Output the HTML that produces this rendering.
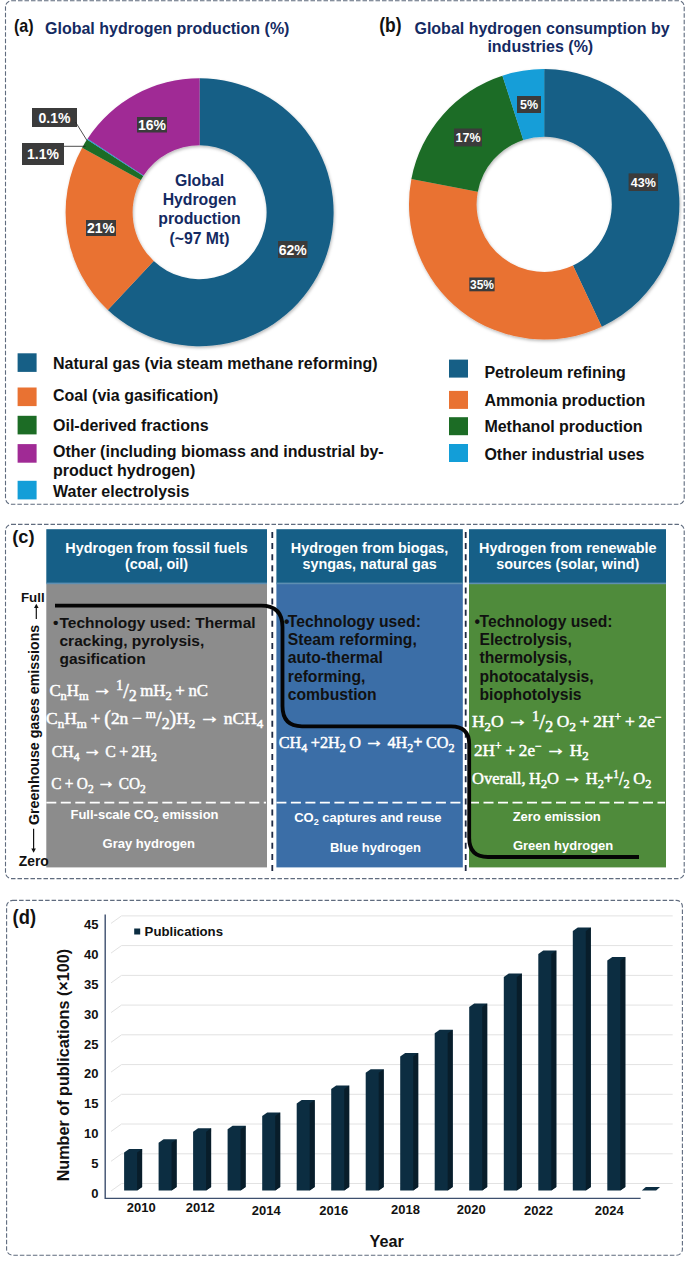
<!DOCTYPE html>
<html><head><meta charset="utf-8"><style>
html,body{margin:0;padding:0;background:#fff;}
body{width:685px;height:1261px;overflow:hidden;font-family:"Liberation Sans",sans-serif;}
svg{display:block;}
</style></head><body>
<svg width="685" height="1261" viewBox="0 0 685 1261">
<defs><filter id="sh" x="-10%" y="-10%" width="120%" height="120%"><feDropShadow dx="0.8" dy="1.6" stdDeviation="1.8" flood-color="#000" flood-opacity="0.28"/></filter></defs>
<rect width="685" height="1261" fill="#fff"/>
<rect x="5.5" y="0.7" width="678.7" height="503.6" rx="6" ry="6" fill="none" stroke="#5f6b7e" stroke-width="1.1" stroke-dasharray="4.5 2"/>
<rect x="5.5" y="524.4" width="678.7" height="354.20000000000005" rx="6" ry="6" fill="none" stroke="#5f6b7e" stroke-width="1.1" stroke-dasharray="4.5 2"/>
<rect x="6.6" y="900.4" width="675.8" height="354.80000000000007" rx="6" ry="6" fill="none" stroke="#5f6b7e" stroke-width="1.1" stroke-dasharray="4.5 2"/>
<text x="14" y="31.8" font-size="19" font-weight="bold" fill="#111" text-anchor="start" font-family='"Liberation Sans", sans-serif' textLength="19.7" lengthAdjust="spacingAndGlyphs">(a)</text>
<text x="45" y="33.6" font-size="16" font-weight="bold" fill="#142a62" text-anchor="start" font-family='"Liberation Sans", sans-serif' >Global hydrogen production (%)</text>
<g filter="url(#sh)">
<path d="M199.60,78.20 A134,134 0 1 1 107.87,309.88 L153.74,261.04 A67,67 0 1 0 199.60,145.20 Z" fill="#165f86"/>
<path d="M107.87,309.88 A134,134 0 0 1 82.17,147.65 L140.89,179.92 A67,67 0 0 0 153.74,261.04 Z" fill="#e97232"/>
<path d="M82.17,147.65 A134,134 0 0 1 86.96,139.61 L143.28,175.91 A67,67 0 0 0 140.89,179.92 Z" fill="#1c6c25"/>
<path d="M86.96,139.61 A134,134 0 0 1 87.60,138.63 L143.60,175.42 A67,67 0 0 0 143.28,175.91 Z" fill="#139ed8"/>
<path d="M87.60,138.63 A134,134 0 0 1 199.60,78.20 L199.60,145.20 A67,67 0 0 0 143.60,175.42 Z" fill="#a02a95"/>
</g>
<text x="199.5" y="186" font-size="15.8" font-weight="bold" fill="#142a62" text-anchor="middle" font-family='"Liberation Sans", sans-serif' >Global</text>
<text x="199.5" y="204.5" font-size="15.8" font-weight="bold" fill="#142a62" text-anchor="middle" font-family='"Liberation Sans", sans-serif' >Hydrogen</text>
<text x="199.5" y="224.1" font-size="15.8" font-weight="bold" fill="#142a62" text-anchor="middle" font-family='"Liberation Sans", sans-serif' >production</text>
<text x="199.5" y="244" font-size="15.8" font-weight="bold" fill="#142a62" text-anchor="middle" font-family='"Liberation Sans", sans-serif' >(~97 Mt)</text>
<rect x="278" y="241" width="29.5" height="17.0" fill="#3b3b3b"/><text x="292.8" y="254.5" font-size="14" font-weight="bold" fill="#fff" text-anchor="middle" font-family='"Liberation Sans", sans-serif' >62%</text>
<rect x="86" y="220" width="30.0" height="16.0" fill="#3b3b3b"/><text x="101.0" y="233.0" font-size="14" font-weight="bold" fill="#fff" text-anchor="middle" font-family='"Liberation Sans", sans-serif' >21%</text>
<rect x="137" y="117" width="30.0" height="15.5" fill="#3b3b3b"/><text x="152.0" y="129.8" font-size="14" font-weight="bold" fill="#fff" text-anchor="middle" font-family='"Liberation Sans", sans-serif' >16%</text>
<rect x="22" y="143" width="42.0" height="22.0" fill="#3b3b3b"/><text x="43.0" y="159.0" font-size="14" font-weight="bold" fill="#fff" text-anchor="middle" font-family='"Liberation Sans", sans-serif' >1.1%</text>
<rect x="32" y="108" width="45.0" height="19.0" fill="#3b3b3b"/><text x="54.5" y="122.5" font-size="14" font-weight="bold" fill="#fff" text-anchor="middle" font-family='"Liberation Sans", sans-serif' >0.1%</text>
<path d="M75.5,122 L87,140.5" stroke="#222" stroke-width="0.8" fill="none"/>
<path d="M64,146.3 L85.5,146.3" stroke="#222" stroke-width="0.8" fill="none"/>
<rect x="17.6" y="353.3" width="19" height="18.6" fill="#165f86"/>
<rect x="17.6" y="387.5" width="19" height="18.6" fill="#e97232"/>
<rect x="17.6" y="415.8" width="19" height="18.6" fill="#1c6c25"/>
<rect x="17.6" y="444.1" width="19" height="18.6" fill="#a02a95"/>
<rect x="17.6" y="480.8" width="19" height="18.6" fill="#139ed8"/>
<text x="53" y="369.4" font-size="16" font-weight="bold" fill="#111" text-anchor="start" font-family='"Liberation Sans", sans-serif' >Natural gas (via steam methane reforming)</text>
<text x="53" y="400.5" font-size="16" font-weight="bold" fill="#111" text-anchor="start" font-family='"Liberation Sans", sans-serif' >Coal (via gasification)</text>
<text x="53" y="430.5" font-size="16" font-weight="bold" fill="#111" text-anchor="start" font-family='"Liberation Sans", sans-serif' >Oil-derived fractions</text>
<text x="53" y="457.2" font-size="16" font-weight="bold" fill="#111" text-anchor="start" font-family='"Liberation Sans", sans-serif' >Other (including biomass and industrial by-</text>
<text x="53" y="475.7" font-size="16" font-weight="bold" fill="#111" text-anchor="start" font-family='"Liberation Sans", sans-serif' >product hydrogen)</text>
<text x="53" y="497.1" font-size="16" font-weight="bold" fill="#111" text-anchor="start" font-family='"Liberation Sans", sans-serif' >Water electrolysis</text>
<text x="379.2" y="31.5" font-size="19.5" font-weight="bold" fill="#111" text-anchor="start" font-family='"Liberation Sans", sans-serif' textLength="22.3" lengthAdjust="spacingAndGlyphs">(b)</text>
<text x="542" y="34.4" font-size="16" font-weight="bold" fill="#142a62" text-anchor="middle" font-family='"Liberation Sans", sans-serif' >Global hydrogen consumption by</text>
<text x="540.3" y="52.3" font-size="16" font-weight="bold" fill="#142a62" text-anchor="middle" font-family='"Liberation Sans", sans-serif' >industries (%)</text>
<g filter="url(#sh)">
<path d="M544.20,69.10 A135.2,135.2 0 0 1 601.77,326.63 L572.98,265.47 A67.6,67.6 0 0 0 544.20,136.70 Z" fill="#165f86"/>
<path d="M601.77,326.63 A135.2,135.2 0 0 1 411.39,178.97 L477.80,191.63 A67.6,67.6 0 0 0 572.98,265.47 Z" fill="#e97232"/>
<path d="M411.39,178.97 A135.2,135.2 0 0 1 502.42,75.72 L523.31,140.01 A67.6,67.6 0 0 0 477.80,191.63 Z" fill="#1c6c25"/>
<path d="M502.42,75.72 A135.2,135.2 0 0 1 544.20,69.10 L544.20,136.70 A67.6,67.6 0 0 0 523.31,140.01 Z" fill="#139ed8"/>
</g>
<rect x="628.6" y="173.4" width="29.4" height="17.6" fill="#3b3b3b"/><text x="643.3" y="186.7" font-size="12.5" font-weight="bold" fill="#fff" text-anchor="middle" font-family='"Liberation Sans", sans-serif' >43%</text>
<rect x="469.3" y="277.5" width="25.3" height="13.8" fill="#3b3b3b"/><text x="482.0" y="288.7" font-size="12" font-weight="bold" fill="#fff" text-anchor="middle" font-family='"Liberation Sans", sans-serif' >35%</text>
<rect x="454" y="128.5" width="28.0" height="17.9" fill="#3b3b3b"/><text x="468.0" y="141.9" font-size="12.5" font-weight="bold" fill="#fff" text-anchor="middle" font-family='"Liberation Sans", sans-serif' >17%</text>
<rect x="517" y="96" width="24.0" height="17.0" fill="#3b3b3b"/><text x="529.0" y="109.0" font-size="12.5" font-weight="bold" fill="#fff" text-anchor="middle" font-family='"Liberation Sans", sans-serif' >5%</text>
<rect x="449" y="359.6" width="19" height="18" fill="#165f86"/>
<rect x="449" y="390.9" width="19" height="18" fill="#e97232"/>
<rect x="449" y="417.2" width="19" height="18" fill="#1c6c25"/>
<rect x="449" y="444" width="19" height="18" fill="#139ed8"/>
<text x="484.4" y="377.7" font-size="16" font-weight="bold" fill="#111" text-anchor="start" font-family='"Liberation Sans", sans-serif' >Petroleum refining</text>
<text x="484.4" y="405.5" font-size="16" font-weight="bold" fill="#111" text-anchor="start" font-family='"Liberation Sans", sans-serif' >Ammonia production</text>
<text x="484.4" y="432.3" font-size="16" font-weight="bold" fill="#111" text-anchor="start" font-family='"Liberation Sans", sans-serif' >Methanol production</text>
<text x="484.4" y="459.5" font-size="16" font-weight="bold" fill="#111" text-anchor="start" font-family='"Liberation Sans", sans-serif' >Other industrial uses</text>
<text x="12.2" y="542.5" font-size="18.5" font-weight="bold" fill="#111" text-anchor="start" font-family='"Liberation Sans", sans-serif' textLength="22.4" lengthAdjust="spacingAndGlyphs">(c)</text>
<rect x="46.3" y="529.2" width="220.7" height="54" fill="#165f87"/>
<rect x="46.3" y="583.2" width="220.7" height="284.2" fill="#8c8c8c"/>
<rect x="46.3" y="582.6" width="220.7" height="1.6" fill="#5e8fb2"/>
<rect x="276.4" y="529.2" width="186.4" height="54" fill="#165f87"/>
<rect x="276.4" y="583.2" width="186.4" height="284.2" fill="#3b6ea7"/>
<rect x="276.4" y="582.6" width="186.4" height="1.6" fill="#5e8fb2"/>
<rect x="469" y="529.2" width="197.0" height="54" fill="#165f87"/>
<rect x="469" y="583.2" width="197.0" height="284.2" fill="#4f8b3b"/>
<rect x="469" y="582.6" width="197.0" height="1.6" fill="#5e8fb2"/>
<line x1="272.3" y1="532" x2="272.3" y2="876" stroke="#1f2a44" stroke-width="1.8" stroke-dasharray="6 5.1"/>
<line x1="465.7" y1="532" x2="465.7" y2="876" stroke="#1f2a44" stroke-width="1.8" stroke-dasharray="6 5.1"/>
<text x="156.5" y="553" font-size="14.4" font-weight="bold" fill="#fff" text-anchor="middle" font-family='"Liberation Sans", sans-serif' >Hydrogen from fossil fuels</text>
<text x="156.5" y="568.8" font-size="14.4" font-weight="bold" fill="#fff" text-anchor="middle" font-family='"Liberation Sans", sans-serif' >(coal, oil)</text>
<text x="369.6" y="553" font-size="14.4" font-weight="bold" fill="#fff" text-anchor="middle" font-family='"Liberation Sans", sans-serif' >Hydrogen from biogas,</text>
<text x="369.6" y="568.8" font-size="14.4" font-weight="bold" fill="#fff" text-anchor="middle" font-family='"Liberation Sans", sans-serif' >syngas, natural gas</text>
<text x="567.8" y="553" font-size="14.4" font-weight="bold" fill="#fff" text-anchor="middle" font-family='"Liberation Sans", sans-serif' >Hydrogen from renewable</text>
<text x="567.8" y="568.8" font-size="14.4" font-weight="bold" fill="#fff" text-anchor="middle" font-family='"Liberation Sans", sans-serif' >sources (solar, wind)</text>
<text x="53" y="627.5" font-size="15.5" font-weight="bold" fill="#111" text-anchor="start" font-family='"Liberation Sans", sans-serif' >•</text><text x="59.5" y="627.5" font-size="15.5" font-weight="bold" fill="#111" text-anchor="start" font-family='"Liberation Sans", sans-serif' >Technology used: Thermal</text><text x="59.5" y="645.7" font-size="15.5" font-weight="bold" fill="#111" text-anchor="start" font-family='"Liberation Sans", sans-serif' >cracking, pyrolysis,</text><text x="59.5" y="663.9" font-size="15.5" font-weight="bold" fill="#111" text-anchor="start" font-family='"Liberation Sans", sans-serif' >gasification</text>
<text x="284" y="626.8" font-size="15.7" font-weight="bold" fill="#111" text-anchor="start" font-family='"Liberation Sans", sans-serif' >•</text><text x="287.8" y="626.8" font-size="15.7" font-weight="bold" fill="#111" text-anchor="start" font-family='"Liberation Sans", sans-serif' >Technology used:</text><text x="287.8" y="645.0999999999999" font-size="15.7" font-weight="bold" fill="#111" text-anchor="start" font-family='"Liberation Sans", sans-serif' >Steam reforming,</text><text x="287.8" y="663.4" font-size="15.7" font-weight="bold" fill="#111" text-anchor="start" font-family='"Liberation Sans", sans-serif' >auto-thermal</text><text x="287.8" y="681.6999999999999" font-size="15.7" font-weight="bold" fill="#111" text-anchor="start" font-family='"Liberation Sans", sans-serif' >reforming,</text><text x="287.8" y="700.0" font-size="15.7" font-weight="bold" fill="#111" text-anchor="start" font-family='"Liberation Sans", sans-serif' >combustion</text>
<text x="474.5" y="626.8" font-size="15.7" font-weight="bold" fill="#111" text-anchor="start" font-family='"Liberation Sans", sans-serif' >•</text><text x="479.5" y="626.8" font-size="15.7" font-weight="bold" fill="#111" text-anchor="start" font-family='"Liberation Sans", sans-serif' >Technology used:</text><text x="479.5" y="645.0999999999999" font-size="15.7" font-weight="bold" fill="#111" text-anchor="start" font-family='"Liberation Sans", sans-serif' >Electrolysis,</text><text x="479.5" y="663.4" font-size="15.7" font-weight="bold" fill="#111" text-anchor="start" font-family='"Liberation Sans", sans-serif' >thermolysis,</text><text x="479.5" y="681.6999999999999" font-size="15.7" font-weight="bold" fill="#111" text-anchor="start" font-family='"Liberation Sans", sans-serif' >photocatalysis,</text><text x="479.5" y="700.0" font-size="15.7" font-weight="bold" fill="#111" text-anchor="start" font-family='"Liberation Sans", sans-serif' >biophotolysis</text>
<text x="49.4" y="696.2" font-size="17.5" fill="#fff" stroke="#fff" stroke-width="0.5" word-spacing="-0.6" font-family='"Liberation Serif", serif' textLength="158.6" lengthAdjust="spacingAndGlyphs">C<tspan font-size="13" baseline-shift="-3.5">n</tspan>H<tspan font-size="13" baseline-shift="-3.5">m</tspan> <tspan font-size="21" baseline-shift="0.8">→</tspan> <tspan font-size="15" baseline-shift="6">1</tspan><tspan font-size="21" baseline-shift="-2">/</tspan><tspan font-size="16" baseline-shift="-5">2</tspan> mH<tspan font-size="13" baseline-shift="-3.5">2</tspan> + nC</text>
<text x="46" y="724.4" font-size="17.5" fill="#fff" stroke="#fff" stroke-width="0.5" word-spacing="-0.6" font-family='"Liberation Serif", serif' textLength="217.3" lengthAdjust="spacingAndGlyphs">C<tspan font-size="13" baseline-shift="-3.5">n</tspan>H<tspan font-size="13" baseline-shift="-3.5">m</tspan> + <tspan font-size="20" baseline-shift="-1">(</tspan>2n − <tspan font-size="13" baseline-shift="6">m</tspan><tspan font-size="21" baseline-shift="-2">/</tspan><tspan font-size="16" baseline-shift="-5">2</tspan><tspan font-size="20" baseline-shift="-1">)</tspan>H<tspan font-size="13" baseline-shift="-3.5">2</tspan> <tspan font-size="21" baseline-shift="0.8">→</tspan> nCH<tspan font-size="13" baseline-shift="-3.5">4</tspan></text>
<text x="51.8" y="756.6" font-size="17.5" fill="#fff" stroke="#fff" stroke-width="0.5" word-spacing="-0.6" font-family='"Liberation Serif", serif' textLength="105" lengthAdjust="spacingAndGlyphs">CH<tspan font-size="13" baseline-shift="-3.5">4</tspan> <tspan font-size="21" baseline-shift="0.8">→</tspan> C + 2H<tspan font-size="13" baseline-shift="-3.5">2</tspan></text>
<text x="51.2" y="789.3" font-size="17.5" fill="#fff" stroke="#fff" stroke-width="0.5" word-spacing="-0.6" font-family='"Liberation Serif", serif' textLength="94.6" lengthAdjust="spacingAndGlyphs">C + O<tspan font-size="13" baseline-shift="-3.5">2</tspan> <tspan font-size="21" baseline-shift="0.8">→</tspan> CO<tspan font-size="13" baseline-shift="-3.5">2</tspan></text>
<text x="278.8" y="748.2" font-size="17.5" fill="#fff" stroke="#fff" stroke-width="0.5" word-spacing="-0.6" font-family='"Liberation Serif", serif' textLength="175.7" lengthAdjust="spacingAndGlyphs">CH<tspan font-size="13" baseline-shift="-3.5">4</tspan> +2H<tspan font-size="13" baseline-shift="-3.5">2</tspan> O <tspan font-size="21" baseline-shift="0.8">→</tspan> 4H<tspan font-size="13" baseline-shift="-3.5">2</tspan><tspan font-weight="bold">+</tspan> CO<tspan font-size="13" baseline-shift="-3.5">2</tspan></text>
<text x="472" y="727.3" font-size="17.5" fill="#fff" stroke="#fff" stroke-width="0.5" word-spacing="-0.6" font-family='"Liberation Serif", serif' textLength="189.6" lengthAdjust="spacingAndGlyphs">H<tspan font-size="13" baseline-shift="-3.5">2</tspan>O <tspan font-size="21" baseline-shift="0.8">→</tspan> <tspan font-size="15" baseline-shift="6">1</tspan><tspan font-size="21" baseline-shift="-2">/</tspan><tspan font-size="16" baseline-shift="-5">2</tspan> O<tspan font-size="13" baseline-shift="-3.5">2</tspan> + 2H<tspan font-size="12" baseline-shift="6.5">+</tspan> + 2e<tspan font-size="12" baseline-shift="6.5">−</tspan></text>
<text x="474" y="756.2" font-size="17.5" fill="#fff" stroke="#fff" stroke-width="0.5" word-spacing="-0.6" font-family='"Liberation Serif", serif' textLength="114.6" lengthAdjust="spacingAndGlyphs">2H<tspan font-size="12" baseline-shift="6.5">+</tspan> + 2e<tspan font-size="12" baseline-shift="6.5">−</tspan> <tspan font-size="21" baseline-shift="0.8">→</tspan> H<tspan font-size="13" baseline-shift="-3.5">2</tspan></text>
<text x="472" y="784.1" font-size="17.5" fill="#fff" stroke="#fff" stroke-width="0.5" word-spacing="-0.6" font-family='"Liberation Serif", serif' textLength="179.3" lengthAdjust="spacingAndGlyphs">Overall, H<tspan font-size="13" baseline-shift="-3.5">2</tspan>O <tspan font-size="21" baseline-shift="0.8">→</tspan> H<tspan font-size="13" baseline-shift="-3.5">2</tspan><tspan font-weight="bold">+</tspan><tspan font-size="12" baseline-shift="6">1</tspan><tspan font-size="18" baseline-shift="-1">/</tspan><tspan font-size="13" baseline-shift="-3.5">2</tspan> O<tspan font-size="13" baseline-shift="-3.5">2</tspan></text>
<line x1="46.3" y1="802.7" x2="266" y2="802.7" stroke="#fff" stroke-width="1.7" stroke-dasharray="10 4.5"/>
<line x1="276.4" y1="802.7" x2="461.8" y2="802.7" stroke="#fff" stroke-width="1.7" stroke-dasharray="10 4.5"/>
<line x1="469" y1="802.7" x2="665" y2="802.7" stroke="#fff" stroke-width="1.7" stroke-dasharray="10 4.5"/>
<text x="144.5" y="818.8" font-size="13" font-weight="bold" fill="#fff" text-anchor="middle" font-family='"Liberation Sans", sans-serif' >Full-scale CO<tspan font-size="9" baseline-shift="-3">2</tspan> emission</text>
<text x="148.8" y="848.4" font-size="13" font-weight="bold" fill="#fff" text-anchor="middle" font-family='"Liberation Sans", sans-serif' >Gray hydrogen</text>
<text x="367.9" y="822" font-size="13" font-weight="bold" fill="#fff" text-anchor="middle" font-family='"Liberation Sans", sans-serif' >CO<tspan font-size="9" baseline-shift="-3">2</tspan> captures and reuse</text>
<text x="375.5" y="851.8" font-size="13" font-weight="bold" fill="#fff" text-anchor="middle" font-family='"Liberation Sans", sans-serif' >Blue hydrogen</text>
<text x="556.7" y="821.4" font-size="13" font-weight="bold" fill="#fff" text-anchor="middle" font-family='"Liberation Sans", sans-serif' >Zero emission</text>
<text x="563.1" y="850.3" font-size="13" font-weight="bold" fill="#fff" text-anchor="middle" font-family='"Liberation Sans", sans-serif' >Green hydrogen</text>
<path d="M55,605.6 H261 Q282.5,605.6 282.5,627 V706 Q282.5,726.3 302,726.3 H451 Q469.2,726.3 469.2,744 V838 Q469.2,857 488,857 H639" fill="none" stroke="#050505" stroke-width="3.8"/>
<text x="21" y="601.8" font-size="13.3" font-weight="bold" fill="#111" text-anchor="start" font-family='"Liberation Sans", sans-serif' >Full</text>
<text x="18.8" y="865.6" font-size="13.8" font-weight="bold" fill="#111" text-anchor="start" font-family='"Liberation Sans", sans-serif' >Zero</text>
<line x1="36.3" y1="607" x2="36.3" y2="619" stroke="#111" stroke-width="1.2"/><path d="M34,608 L36.3,603.8 L38.6,608 Z" fill="#111"/>
<line x1="33.6" y1="828.8" x2="33.6" y2="849" stroke="#111" stroke-width="1.2"/><path d="M31.3,848.5 L33.6,852.8 L35.9,848.5 Z" fill="#111"/>
<text x="0" y="0" font-size="14.2" font-weight="bold" fill="#111" text-anchor="middle" font-family='"Liberation Sans", sans-serif' transform="translate(38.8,724.9) rotate(-90)">Greenhouse gases emissions</text>
<text x="12.6" y="923.5" font-size="19.5" font-weight="bold" fill="#111" text-anchor="start" font-family='"Liberation Sans", sans-serif' textLength="23.4" lengthAdjust="spacingAndGlyphs">(d)</text>
<path d="M111,1191.0 L121.5,1183.5 H672.7" stroke="#e2e2e2" stroke-width="1" fill="none"/>
<text x="98.5" y="1197.8" font-size="13" font-weight="bold" fill="#111" text-anchor="end" font-family='"Liberation Sans", sans-serif' >0</text>
<path d="M111,1161.3 L121.5,1153.8 H672.7" stroke="#e2e2e2" stroke-width="1" fill="none"/>
<text x="98.5" y="1168.0" font-size="13" font-weight="bold" fill="#111" text-anchor="end" font-family='"Liberation Sans", sans-serif' >5</text>
<path d="M111,1131.5 L121.5,1124.0 H672.7" stroke="#e2e2e2" stroke-width="1" fill="none"/>
<text x="98.5" y="1138.1" font-size="13" font-weight="bold" fill="#111" text-anchor="end" font-family='"Liberation Sans", sans-serif' >10</text>
<path d="M111,1101.8 L121.5,1094.3 H672.7" stroke="#e2e2e2" stroke-width="1" fill="none"/>
<text x="98.5" y="1108.3" font-size="13" font-weight="bold" fill="#111" text-anchor="end" font-family='"Liberation Sans", sans-serif' >15</text>
<path d="M111,1072.1 L121.5,1064.6 H672.7" stroke="#e2e2e2" stroke-width="1" fill="none"/>
<text x="98.5" y="1078.4" font-size="13" font-weight="bold" fill="#111" text-anchor="end" font-family='"Liberation Sans", sans-serif' >20</text>
<path d="M111,1042.3 L121.5,1034.8 H672.7" stroke="#e2e2e2" stroke-width="1" fill="none"/>
<text x="98.5" y="1048.6" font-size="13" font-weight="bold" fill="#111" text-anchor="end" font-family='"Liberation Sans", sans-serif' >25</text>
<path d="M111,1012.6 L121.5,1005.1 H672.7" stroke="#e2e2e2" stroke-width="1" fill="none"/>
<text x="98.5" y="1018.7" font-size="13" font-weight="bold" fill="#111" text-anchor="end" font-family='"Liberation Sans", sans-serif' >30</text>
<path d="M111,982.9 L121.5,975.4 H672.7" stroke="#e2e2e2" stroke-width="1" fill="none"/>
<text x="98.5" y="988.9" font-size="13" font-weight="bold" fill="#111" text-anchor="end" font-family='"Liberation Sans", sans-serif' >35</text>
<path d="M111,953.1 L121.5,945.6 H672.7" stroke="#e2e2e2" stroke-width="1" fill="none"/>
<text x="98.5" y="959.0" font-size="13" font-weight="bold" fill="#111" text-anchor="end" font-family='"Liberation Sans", sans-serif' >40</text>
<path d="M111,923.4 L121.5,915.9 H672.7" stroke="#e2e2e2" stroke-width="1" fill="none"/>
<text x="98.5" y="929.2" font-size="13" font-weight="bold" fill="#111" text-anchor="end" font-family='"Liberation Sans", sans-serif' >45</text>
<path d="M105.2,914.5 V1198.4 H640.6" stroke="#3d4f6e" stroke-width="1.4" fill="none"/>
<path d="M124.1,1190.5 V1152.4 L129.1,1148.9 H142.1 V1187.0 L137.1,1190.5 Z" fill="#0c2d41"/>
<path d="M137.1,1190.5 V1152.4 L142.1,1148.9 V1187.0 Z" fill="#081d2a"/>
<path d="M158.6,1190.5 V1142.8 L163.6,1139.3 H176.6 V1187.0 L171.6,1190.5 Z" fill="#0c2d41"/>
<path d="M171.6,1190.5 V1142.8 L176.6,1139.3 V1187.0 Z" fill="#081d2a"/>
<path d="M193.1,1190.5 V1131.8 L198.1,1128.3 H211.1 V1187.0 L206.1,1190.5 Z" fill="#0c2d41"/>
<path d="M206.1,1190.5 V1131.8 L211.1,1128.3 V1187.0 Z" fill="#081d2a"/>
<path d="M227.6,1190.5 V1129.2 L232.6,1125.7 H245.6 V1187.0 L240.6,1190.5 Z" fill="#0c2d41"/>
<path d="M240.6,1190.5 V1129.2 L245.6,1125.7 V1187.0 Z" fill="#081d2a"/>
<path d="M262.2,1190.5 V1116.1 L267.2,1112.6 H280.2 V1187.0 L275.2,1190.5 Z" fill="#0c2d41"/>
<path d="M275.2,1190.5 V1116.1 L280.2,1112.6 V1187.0 Z" fill="#081d2a"/>
<path d="M296.7,1190.5 V1103.4 L301.7,1099.9 H314.7 V1187.0 L309.7,1190.5 Z" fill="#0c2d41"/>
<path d="M309.7,1190.5 V1103.4 L314.7,1099.9 V1187.0 Z" fill="#081d2a"/>
<path d="M331.2,1190.5 V1088.9 L336.2,1085.4 H349.2 V1187.0 L344.2,1190.5 Z" fill="#0c2d41"/>
<path d="M344.2,1190.5 V1088.9 L349.2,1085.4 V1187.0 Z" fill="#081d2a"/>
<path d="M365.7,1190.5 V1072.7 L370.7,1069.2 H383.7 V1187.0 L378.7,1190.5 Z" fill="#0c2d41"/>
<path d="M378.7,1190.5 V1072.7 L383.7,1069.2 V1187.0 Z" fill="#081d2a"/>
<path d="M400.2,1190.5 V1056.5 L405.2,1053.0 H418.2 V1187.0 L413.2,1190.5 Z" fill="#0c2d41"/>
<path d="M413.2,1190.5 V1056.5 L418.2,1053.0 V1187.0 Z" fill="#081d2a"/>
<path d="M434.7,1190.5 V1033.3 L439.7,1029.8 H452.7 V1187.0 L447.7,1190.5 Z" fill="#0c2d41"/>
<path d="M447.7,1190.5 V1033.3 L452.7,1029.8 V1187.0 Z" fill="#081d2a"/>
<path d="M469.2,1190.5 V1007 L474.2,1003.5 H487.2 V1187.0 L482.2,1190.5 Z" fill="#0c2d41"/>
<path d="M482.2,1190.5 V1007 L487.2,1003.5 V1187.0 Z" fill="#081d2a"/>
<path d="M503.8,1190.5 V977 L508.8,973.5 H521.8 V1187.0 L516.8,1190.5 Z" fill="#0c2d41"/>
<path d="M516.8,1190.5 V977 L521.8,973.5 V1187.0 Z" fill="#081d2a"/>
<path d="M538.3,1190.5 V954 L543.3,950.5 H556.3 V1187.0 L551.3,1190.5 Z" fill="#0c2d41"/>
<path d="M551.3,1190.5 V954 L556.3,950.5 V1187.0 Z" fill="#081d2a"/>
<path d="M572.8,1190.5 V931.1 L577.8,927.6 H590.8 V1187.0 L585.8,1190.5 Z" fill="#0c2d41"/>
<path d="M585.8,1190.5 V931.1 L590.8,927.6 V1187.0 Z" fill="#081d2a"/>
<path d="M607.3,1190.5 V960.5 L612.3,957.0 H625.3 V1187.0 L620.3,1190.5 Z" fill="#0c2d41"/>
<path d="M620.3,1190.5 V960.5 L625.3,957.0 V1187.0 Z" fill="#081d2a"/>
<path d="M641.8,1190.5 L645.8,1187 H660.1 L656.1,1190.5 Z" fill="#0c2d41"/>
<text x="141.2" y="1212.4" font-size="13" font-weight="bold" fill="#111" text-anchor="middle" font-family='"Liberation Sans", sans-serif' >2010</text>
<text x="200.3" y="1212.4" font-size="13" font-weight="bold" fill="#111" text-anchor="middle" font-family='"Liberation Sans", sans-serif' >2012</text>
<text x="266.2" y="1214.6" font-size="13" font-weight="bold" fill="#111" text-anchor="middle" font-family='"Liberation Sans", sans-serif' >2014</text>
<text x="333.7" y="1214.6" font-size="13" font-weight="bold" fill="#111" text-anchor="middle" font-family='"Liberation Sans", sans-serif' >2016</text>
<text x="405.5" y="1213.7" font-size="13" font-weight="bold" fill="#111" text-anchor="middle" font-family='"Liberation Sans", sans-serif' >2018</text>
<text x="471.3" y="1213.7" font-size="13" font-weight="bold" fill="#111" text-anchor="middle" font-family='"Liberation Sans", sans-serif' >2020</text>
<text x="538.4" y="1215" font-size="13" font-weight="bold" fill="#111" text-anchor="middle" font-family='"Liberation Sans", sans-serif' >2022</text>
<text x="609.3" y="1215" font-size="13" font-weight="bold" fill="#111" text-anchor="middle" font-family='"Liberation Sans", sans-serif' >2024</text>
<text x="369.5" y="1246.6" font-size="16.2" font-weight="bold" fill="#111" text-anchor="start" font-family='"Liberation Sans", sans-serif' >Year</text>
<text x="0" y="0" font-size="16.2" font-weight="bold" fill="#111" text-anchor="middle" font-family='"Liberation Sans", sans-serif' transform="translate(68.8,1065.1) rotate(-90)">Number of publications (×100)</text>
<rect x="134.2" y="928.5" width="6" height="6" fill="#0c2d41"/>
<text x="144.6" y="935.5" font-size="13.2" font-weight="bold" fill="#111" text-anchor="start" font-family='"Liberation Sans", sans-serif' >Publications</text>
</svg>
</body></html>
